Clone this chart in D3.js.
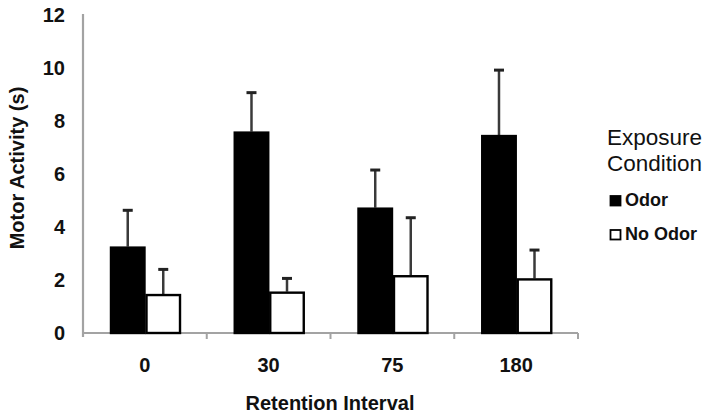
<!DOCTYPE html>
<html>
<head>
<meta charset="utf-8">
<script src="https://cdn.jsdelivr.net/npm/d3@7"></script>
<style>
  html, body { margin: 0; padding: 0; background: #fff; }
  svg { display: block; font-family: "Liberation Sans", Arial, sans-serif; }
</style>
</head>
<body>
<svg id="chart" width="711" height="416"></svg>
<script>
// ---- data ----
const categories = ["0", "30", "75", "180"];
const seriesNames = ["Odor", "No Odor"];
const odorMeans = [3.26, 7.60, 4.73, 7.47];
const odorErrors = [1.37, 1.47, 1.42, 2.45];
const noOdorMeans = [1.47, 1.56, 2.18, 2.06];
const noOdorErrors = [0.93, 0.50, 2.17, 1.07];
const yTicks = [0, 2, 4, 6, 8, 10, 12];
const xTitle = "Retention Interval";
const yTitle = "Motor Activity (s)";
const legendTitle = ["Exposure", "Condition"];

(function () {
const rows = categories.map((c, i) => ({
  cat: c,
  vals: [
    { s: seriesNames[0], v: odorMeans[i], e: odorErrors[i] },
    { s: seriesNames[1], v: noOdorMeans[i], e: noOdorErrors[i] }
  ]
}));

const svg = d3.select("#chart");
const mLeft = 83, mRight = 578, mTop = 15, mBottom = 333;

const x = d3.scaleBand().domain(categories).range([mLeft, mRight]).padding(0);
const xs = d3.scaleBand().domain(seriesNames)
  .range([x.bandwidth() * 0.218, x.bandwidth() * 0.792]).padding(0);
const y = d3.scaleLinear().domain([0, 12]).range([mBottom, mTop]);
const fill = d3.scaleOrdinal().domain(seriesNames).range(["#000000", "#ffffff"]);

const axisColor = "#a3a3a3";

// y axis
const yAxis = svg.append("g").attr("transform", `translate(${mLeft},0)`)
  .call(d3.axisLeft(y).tickValues(yTicks).tickSize(0).tickPadding(18).tickFormat(d3.format("d")));
yAxis.select(".domain").attr("stroke", axisColor).attr("stroke-width", 2.2)
  .attr("d", `M0,${mTop - 1}V${mBottom + 4}`);
yAxis.selectAll("text").attr("font-size", 20).attr("font-weight", "bold")
  .attr("fill", "#111").attr("font-family", "'Liberation Sans', Arial, sans-serif");

// x axis
const xg = svg.append("g");
xg.append("line").attr("x1", mLeft).attr("x2", mRight).attr("y1", mBottom).attr("y2", mBottom)
  .attr("stroke", axisColor).attr("stroke-width", 2.2);
const boundaries = categories.map(c => x(c)).concat([x(categories[categories.length - 1]) + x.bandwidth()]);
xg.selectAll("line.tick").data(boundaries.slice(1)).join("line")
  .attr("class", "tick")
  .attr("x1", d => d).attr("x2", d => d).attr("y1", mBottom).attr("y2", mBottom + 6)
  .attr("stroke", axisColor).attr("stroke-width", 2);
xg.selectAll("text").data(categories).join("text")
  .attr("x", d => x(d) + x.bandwidth() / 2).attr("y", 372)
  .attr("text-anchor", "middle").attr("font-size", 20).attr("font-weight", "bold").attr("fill", "#111")
  .text(d => d);

// bars
const groups = svg.selectAll("g.grp").data(rows).join("g")
  .attr("class", "grp").attr("transform", d => `translate(${x(d.cat)},0)`);

groups.selectAll("line.err").data(d => d.vals).join("line")
  .attr("class", "err")
  .attr("x1", d => xs(d.s) + xs.bandwidth() / 2).attr("x2", d => xs(d.s) + xs.bandwidth() / 2)
  .attr("y1", d => y(d.v)).attr("y2", d => y(d.v + d.e))
  .attr("stroke", "#3a3a3a").attr("stroke-width", 2.5);
groups.selectAll("line.cap").data(d => d.vals).join("line")
  .attr("class", "cap")
  .attr("x1", d => xs(d.s) + xs.bandwidth() / 2 - 5).attr("x2", d => xs(d.s) + xs.bandwidth() / 2 + 5)
  .attr("y1", d => y(d.v + d.e)).attr("y2", d => y(d.v + d.e))
  .attr("stroke", "#222").attr("stroke-width", 3);

groups.selectAll("rect").data(d => d.vals).join("rect")
  .attr("x", d => xs(d.s) + 1).attr("width", xs.bandwidth() - 2)
  .attr("y", d => y(d.v) + 1).attr("height", d => y(0) - y(d.v) - 1)
  .attr("fill", d => fill(d.s)).attr("stroke", "#000").attr("stroke-width", 2.4);

// axis titles
svg.append("text").attr("x", 330).attr("y", 410).attr("text-anchor", "middle")
  .attr("font-size", 20).attr("font-weight", "bold").attr("fill", "#111").text(xTitle);
svg.append("text").attr("transform", "translate(24,168) rotate(-90)").attr("text-anchor", "middle")
  .attr("font-size", 20).attr("font-weight", "bold").attr("fill", "#111").text(yTitle);

// legend
const lg = svg.append("g");
lg.selectAll("text.title").data(legendTitle).join("text").attr("class", "title")
  .attr("x", 607).attr("y", (d, i) => 145 + i * 26)
  .attr("font-size", 22.5).attr("fill", "#111").text(d => d);
const items = lg.selectAll("g.item").data(seriesNames).join("g").attr("class", "item")
  .attr("transform", (d, i) => `translate(0,${206 + i * 34})`);
items.append("rect").attr("x", 610.5).attr("y", -10).attr("width", 10).attr("height", 9.5)
  .attr("fill", d => fill(d)).attr("stroke", "#000").attr("stroke-width", 1.8);
items.append("text").attr("x", 625).attr("y", 0)
  .attr("font-size", 18).attr("font-weight", "bold").attr("fill", "#111").text(d => d);
})();
</script>
</body>
</html>
